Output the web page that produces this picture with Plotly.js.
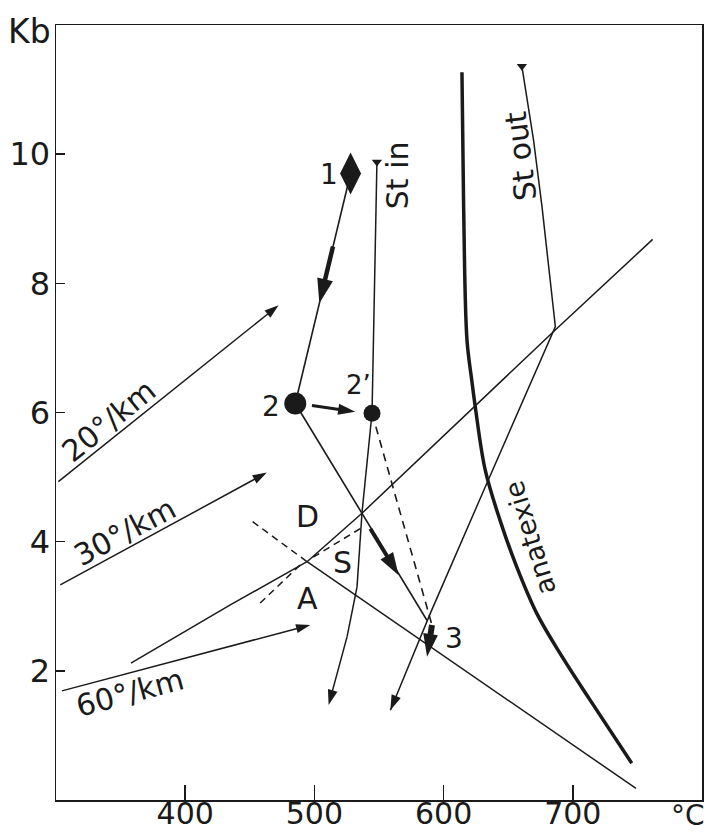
<!DOCTYPE html>
<html><head><meta charset="utf-8">
<script src="https://cdn.plot.ly/plotly-3.0.1.min.js"></script>
<style>html,body{margin:0;padding:0;background:#fff}</style>
</head><body><div id="plot" style="width:712px;height:833px"></div>
<script>
// ---- axes ----
const xTicks = [400, 500, 600, 700];
const yTicks = [2, 4, 6, 8, 10];
// ---- geotherm arrows (T °C, P kb) ----
const g20T = [301.8, 472.3], g20P = [4.93, 7.66];
const g30T = [303.3, 463.2], g30P = [3.33, 5.07];
const g60T = [304.6, 496.8], g60P = [1.69, 2.71];
// ---- Al2SiO5 boundaries ----
const adT = [358.0, 434.9, 494.3], adP = [2.12, 3.02, 3.69];
const dsT = [494.3, 536.8, 686.0, 761.8], dsP = [3.69, 4.44, 7.27, 8.68];
const asT = [494.3, 748.9], asP = [3.69, 0.18];
const asDashT = [452.2, 494.3], asDashP = [4.31, 3.69];
const adDashT = [458.0, 489.0], adDashP = [3.05, 3.64];
const dsDashT = [499.1, 537.8], dsDashP = [3.76, 4.23];
// ---- staurolite and anatexis ----
const stInT = [548.4, 544.6, 536.8, 533.0, 525.3, 514.9, 511.0];
const stInP = [9.88, 5.99, 4.44, 3.30, 2.53, 1.75, 1.47];
const stOutT = [660.6, 669.6, 676.2, 682.1, 686.5, 632.3, 607.7, 589.7, 558.8];
const stOutP = [11.36, 10.22, 9.18, 8.15, 7.33, 4.85, 3.72, 2.89, 1.39];
const anaT = [614.2, 615.5, 618.1, 621.8, 624.5, 632.2, 643.7, 656.6, 672.1, 691.7, 713.3, 745.6];
const anaP = [11.27, 9.18, 7.12, 6.50, 6.09, 5.11, 4.33, 3.61, 2.89, 2.22, 1.55, 0.57];
// ---- P-T path ----
const pt1T = [528.0], pt1P = [9.70];
const pt2T = [485.2], pt2P = [6.14];
const pt2pT = [544.6], pt2pP = [5.99];
const path12T = [528.0, 485.2], path12P = [9.70, 6.14];
const arr12T = [514.4, 503.8], arr12P = [8.57, 7.69];
const arr22pT = [498.1, 531.6], arr22pP = [6.11, 6.01];
const path23T = [485.2, 587.2], path23P = [6.14, 2.78];
const arr23T = [543.3, 565.2], arr23P = [4.20, 3.48];
const path2p3T = [544.6, 591.0], path2p3P = [5.99, 2.71];
const arr3T = [591.0, 587.2], arr3P = [2.71, 2.22];

const INK = '#1a1a1a';
const F = 'DejaVu Sans, Liberation Sans, Arial, sans-serif';

function line(x, y, w, dash, shape) {
  return {x, y, type: 'scatter', mode: 'lines', hoverinfo: 'skip',
    line: {color: INK, width: w, dash: dash || 'solid', shape: shape || 'linear', smoothing: 1}};
}
function arrowLine(x, y, w, headSize) {
  const sizes = x.map((_, i) => i === x.length - 1 ? headSize : 0);
  return {x, y, type: 'scatter', mode: 'lines+markers', hoverinfo: 'skip',
    line: {color: INK, width: w},
    marker: {symbol: 'arrow', angleref: 'previous', size: sizes, color: INK, opacity: 1, line: {width: 0}}};
}
function pts(x, y, sym, size) {
  return {x, y, type: 'scatter', mode: 'markers', hoverinfo: 'skip',
    marker: {symbol: sym, size: size, color: INK, opacity: 1, line: {width: 0}}};
}

const traces = [
  arrowLine(g20T, g20P, 1.5, 15),
  arrowLine(g30T, g30P, 1.5, 15),
  arrowLine(g60T, g60P, 1.5, 15),
  line(adT, adP, 1.5),
  line(dsT, dsP, 1.5),
  line(asT, asP, 1.5),
  line(asDashT, asDashP, 1.5, '7px,5px'),
  line(adDashT, adDashP, 1.5, '7px,5px'),
  line(dsDashT, dsDashP, 1.5, '7px,5px'),
  arrowLine(stInT, stInP, 1.5, 16),
  arrowLine(stOutT, stOutP, 1.5, 16),
  pts([stInT[0]], [stInP[0]], 'triangle-down', 9),
  pts([stOutT[0]], [stOutP[0]], 'triangle-down', 9),
  line(anaT, anaP, 3.5, 'solid', 'spline'),
  line(path12T, path12P, 1.6),
  arrowLine(arr12T, arr12P, 4.5, 26),
  line(path23T, path23P, 1.6),
  arrowLine(arr23T, arr23P, 4, 24),
  arrowLine(arr22pT, arr22pP, 3, 18),
  line(path2p3T, path2p3P, 1.6, '8px,6px'),
  arrowLine(arr3T, arr3P, 6, 24),
  pts(pt1T, pt1P, 'diamond-tall', 30),
  pts(pt2T, pt2P, 'circle', 22),
  pts(pt2pT, pt2pP, 'circle', 17)
];

function txt(text, x, y, size, angle) {
  return {text, x, y, xref: 'x', yref: 'y', showarrow: false, textangle: angle || 0,
    xanchor: 'center', yanchor: 'middle', font: {family: F, size: size, color: INK}};
}
const annotations = [
  txt('1', 511.1, 9.68, 28),
  txt('2', 466.3, 6.09, 28),
  txt('2’', 533.8, 6.42, 26),
  txt('3', 608.3, 2.50, 28),
  txt('D', 494.8, 4.39, 30),
  txt('S', 521.4, 3.67, 30),
  txt('A', 494.8, 3.12, 30),
  txt('St in', 564.5, 9.67, 30, -90),
  txt('St out', 659.5, 9.98, 30, -97),
  txt('anatexie', 666.9, 4.05, 27, -107),
  txt('20°/km', 341.3, 5.87, 30, -39),
  txt('30°/km', 353.6, 4.15, 30, -28),
  txt('60°/km', 357.3, 1.66, 30, -15),
  {text: 'Kb', xref: 'paper', yref: 'paper', x: -0.004, y: 0.991, xanchor: 'right', yanchor: 'middle',
   showarrow: false, font: {family: F, size: 33, color: INK}},
  {text: '°C', xref: 'paper', yref: 'paper', x: 0.978, y: -0.0195, xanchor: 'center', yanchor: 'middle',
   showarrow: false, font: {family: F, size: 28, color: INK}}
];

const axisCommon = {showgrid: false, zeroline: false, showline: true, mirror: true,
  linecolor: INK, linewidth: 1.5, ticks: 'inside', tickcolor: INK, tickwidth: 1.5,
  tickfont: {family: F, size: 32, color: INK}, fixedrange: true};

const layout = {
  width: 712, height: 833,
  margin: {l: 56, r: 10, t: 25, b: 33, pad: 0},
  paper_bgcolor: '#fff', plot_bgcolor: '#fff',
  showlegend: false,
  xaxis: Object.assign({}, axisCommon, {range: [300, 800], tickvals: xTicks, ticktext: xTicks.map(String),
    ticklen: 15, ticklabelstandoff: -14, tickfont: {family: F, size: 30, color: INK}}),
  yaxis: Object.assign({}, axisCommon, {range: [0, 12], tickvals: yTicks, ticktext: yTicks.map(String), ticklen: 9, ticklabelstandoff: -2}),
  annotations
};
Plotly.newPlot('plot', traces, layout, {staticPlot: true, displayModeBar: false});
</script></body></html>
